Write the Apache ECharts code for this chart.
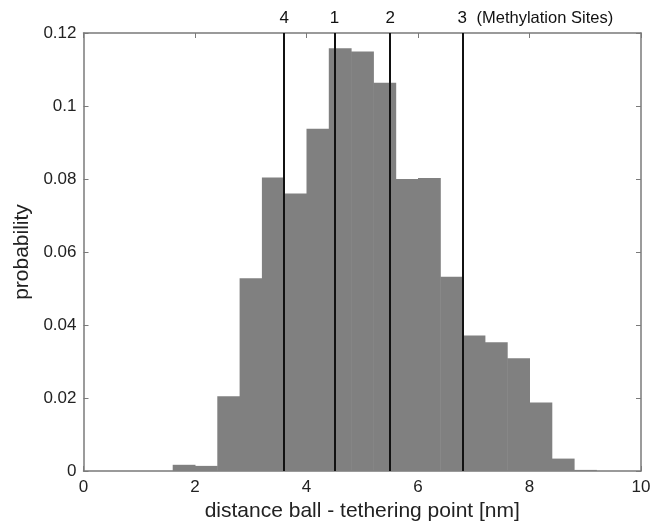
<!DOCTYPE html>
<html>
<head>
<meta charset="utf-8">
<script src="https://cdn.jsdelivr.net/npm/echarts@6/dist/echarts.min.js"></script>
<style>
  html, body { margin: 0; padding: 0; background: #fff; }
  #chart { width: 662px; height: 525px; }
</style>
</head>
<body>
<div id="chart"></div>
<script>
// Histogram bins (left edge, right edge) in nm, and probability per bin
const binStarts = [1.6, 2.0, 2.4, 2.8, 3.2, 3.6, 4.0, 4.4, 4.8, 5.2, 5.6, 6.0, 6.4, 6.8, 7.2, 7.6, 8.0, 8.4, 8.8];
const binWidth = 0.4;
const probabilities = [0.0017, 0.0014, 0.0205, 0.0528, 0.0804, 0.0760, 0.0938, 0.1158, 0.1149, 0.1064, 0.0800, 0.0803, 0.0532, 0.0371, 0.0353, 0.0309, 0.0188, 0.0034, 0.0003];

// Methylation sites: label and position along the distance axis
const siteLabels = ['4', '1', '2', '3'];
const sitePositions = [3.6, 4.5, 5.5, 6.8];

const xTicks = [0, 2, 4, 6, 8, 10];
const yTicks = [0, 0.02, 0.04, 0.06, 0.08, 0.1, 0.12];

const FONT = 'Liberation Sans, Arial, Helvetica, sans-serif';
const AXIS_GRAY = '#7a7a7a';

const histData = binStarts.map((s, i) => [s, s + binWidth, probabilities[i]]);

const chart = echarts.init(document.getElementById('chart'), null, { renderer: 'canvas' });

const baseX = {
  type: 'value', min: xTicks[0], max: xTicks[xTicks.length - 1], interval: 2,
  axisLine: { show: true, onZero: false, lineStyle: { color: AXIS_GRAY, width: 1.5 } },
  axisTick: { show: true, inside: true, length: 5, lineStyle: { color: AXIS_GRAY, width: 1 } },
  splitLine: { show: false }
};
const baseY = {
  type: 'value', min: yTicks[0], max: yTicks[yTicks.length - 1], interval: 0.02,
  axisLine: { show: true, onZero: false, lineStyle: { color: AXIS_GRAY, width: 1.5 } },
  axisTick: { show: true, inside: true, length: 5, lineStyle: { color: AXIS_GRAY, width: 1 } },
  splitLine: { show: false }
};

chart.setOption({
  backgroundColor: '#ffffff',
  animation: false,
  grid: { left: 83.5, right: 21, top: 33, bottom: 54, containLabel: false, outerBoundsMode: 'none' },
  xAxis: [
    Object.assign({}, baseX, {
      position: 'bottom',
      name: 'distance ball - tethering point [nm]',
      nameLocation: 'middle', nameGap: 26,
      nameTextStyle: { fontFamily: FONT, fontSize: 21, color: '#222' },
      axisLabel: { show: true, margin: 8, fontFamily: FONT, fontSize: 17, color: '#222' }
    }),
    Object.assign({}, baseX, { position: 'top', axisLabel: { show: false } })
  ],
  yAxis: [
    Object.assign({}, baseY, {
      position: 'left',
      name: 'probability',
      nameLocation: 'middle', nameGap: 51, nameRotate: 90,
      nameTextStyle: { fontFamily: FONT, fontSize: 21, color: '#222' },
      axisLabel: { show: true, margin: 7, fontFamily: FONT, fontSize: 17, color: '#222',
        formatter: v => String(Math.round(v * 100) / 100) }
    }),
    Object.assign({}, baseY, { position: 'right', axisLabel: { show: false } })
  ],
  series: [
    {
      type: 'custom',
      xAxisIndex: 0, yAxisIndex: 0,
      data: histData,
      renderItem: function (params, api) {
        const p0 = api.coord([api.value(0), api.value(2)]);
        const p1 = api.coord([api.value(1), 0]);
        return {
          type: 'rect',
          shape: { x: p0[0], y: p0[1], width: p1[0] - p0[0] + 0.5, height: p1[1] - p0[1] },
          style: { fill: '#808080', stroke: null }
        };
      },
      encode: { x: [0, 1], y: 2 },
      z: 2,
      markLine: {
        silent: true,
        symbol: ['none', 'none'],
        lineStyle: { color: '#111', width: 2, type: 'solid' },
        label: {
          show: true, position: 'end', distance: 6,
          fontFamily: FONT, fontSize: 17, color: '#111'
        },
        data: sitePositions.map((x, i) => {
          const item = { xAxis: x, name: siteLabels[i], label: { formatter: siteLabels[i] } };
          if (i === siteLabels.length - 1) {
            item.label = {
              formatter: siteLabels[i] + '  {s|(Methylation Sites)}',
              align: 'left', offset: [-5, 0],
              rich: { s: { fontFamily: FONT, fontSize: 16.5, color: '#111' } }
            };
          }
          return item;
        })
      }
    }
  ]
});
</script>
</body>
</html>
